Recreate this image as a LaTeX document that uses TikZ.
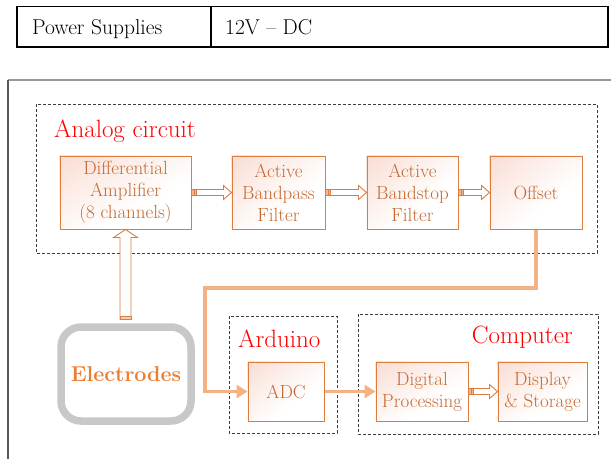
\documentclass[tikz,border=0pt]{standalone}
\usepackage{fontspec}
\setmainfont{Latin Modern Roman}
\usetikzlibrary{calc,arrows.meta,backgrounds}
\definecolor{boxedge}{RGB}{222,124,62}
\definecolor{boxtext}{RGB}{198,104,48}
\definecolor{boxpink}{RGB}{249,220,210}
\definecolor{connor}{RGB}{244,177,131}
\definecolor{elecor}{RGB}{237,125,49}
\definecolor{elecgray}{RGB}{200,200,200}
\definecolor{dashgray}{RGB}{60,60,60}
\newcommand\harrow[2]{%
  \draw[hollow] ($(#1)+(0,3)$) -- ($(#2)+(-8,3)$) -- ($(#2)+(-8,7)$) -- (#2) -- ($(#2)+(-8,-7)$) -- ($(#2)+(-8,-3)$) -- ($(#1)+(0,-3)$) -- cycle;
  \draw[hollow, fill=boxedge!55] ($(#1)+(0,3)$) rectangle ($(#1)+(5,-3)$);
  \draw[boxedge, line width=0.6pt] ($(#1)+(2.5,3)$) -- ($(#1)+(2.5,-3)$);}
\newcommand\gradfill[1]{%
  \begin{scope}
    \clip (#1.north west) rectangle (#1.south east);
    \fill[white] (#1.north west) rectangle (#1.south east);
    \foreach \t/\p in {1.3/4,1.2/10,1.1/17,1.0/24,0.9/32,0.8/40,0.7/48,0.6/56,0.5/64,0.4/72,0.3/80,0.2/88,0.1/95}{
      \fill[boxpink!\p!white] (#1.north west)
        -- ($(#1.north west)!\t!(#1.north east)$)
        -- ($(#1.north west)!\t!(#1.south west)$) -- cycle;}
  \end{scope}}
\begin{document}
\begin{tikzpicture}[x=1pt,y=-1pt,
  block/.style={draw=boxedge, line width=1pt,
    text=boxtext, align=center, inner sep=0pt, font=\fontsize{19}{22}\selectfont},
  hollow/.style={draw=boxedge, line width=0.9pt, fill=white, line join=miter},
  group/.style={draw=dashgray, line width=0.9pt, dash pattern=on 3pt off 2pt},
  redlabel/.style={text=red, inner sep=0pt, font=\fontsize{25}{28}\selectfont},
  conn/.style={draw=connor, line width=3.6pt, -{Triangle[length=11pt,width=13pt]}},
  tabletext/.style={inner sep=0pt, font=\fontsize{21.5}{24}\selectfont}]
\useasboundingbox (0,0) rectangle (611,459);
% table
\draw[line width=1.4pt] (17,6.5) rectangle (608,47) (211,6.5) -- (211,47);
\node[tabletext, anchor=base west] (ps) at (32,34) {Power Supplies};
\node[tabletext, anchor=base west] (dc) at (225,34) {12V -- DC};
% outer frame
\draw[gray!80, line width=1.5pt] (611,80) -- (8,80);
\draw[black!65, line width=1.5pt] (8,80) -- (8,459);
% groups
\draw[group] (36,104) rectangle (597,253);
\draw[group] (229,316) rectangle (337,433);
\draw[group] (358,314) rectangle (598,434);
\node[redlabel, anchor=base west] (lan) at (54,137) {Analog circuit};
\node[redlabel, anchor=base west] (lar) at (238,347) {Arduino};
\node[redlabel, anchor=base east] (lco) at (573,343) {Computer};
% blocks
\node[block, minimum width=131pt, minimum height=73pt] (diff) at (125.5,192.5) {Differential\\Amplifier\\(8 channels)};
\node[block, minimum width=93pt, minimum height=73pt] (bp) at (278.5,192.5) {Active\\Bandpass\\Filter};
\node[block, minimum width=91pt, minimum height=73pt] (bs) at (412.5,192.5) {Active\\Bandstop\\Filter};
\node[block, minimum width=92pt, minimum height=73pt] (off) at (536,192.5) {Offset};
\node[block, minimum width=76pt, minimum height=59pt] (adc) at (286,391.5) {ADC};
\node[block, minimum width=92pt, minimum height=59pt] (dp) at (422,391.5) {Digital\\Processing};
\node[block, minimum width=89pt, minimum height=59pt] (ds) at (542.5,391.5) {Display\\\& Storage};
\begin{scope}[on background layer]
  \gradfill{diff}\gradfill{bp}\gradfill{bs}\gradfill{off}\gradfill{adc}\gradfill{dp}\gradfill{ds}
\end{scope}
% electrodes
\node[draw=elecgray, line width=7.5pt, rounded corners=20pt, fill=white, minimum width=130pt, minimum height=94pt,
  text=elecor, inner sep=0pt, font=\bfseries\fontsize{21.5}{26}\selectfont] (elec) at (126,374) {Electrodes};
% hollow arrows
\harrow{diff.east}{bp.west}
\harrow{bp.east}{bs.west}
\harrow{bs.east}{off.west}
\harrow{dp.east}{ds.west}
\coordinate (vs) at (diff.south |- elec.north);
\draw[hollow] ($(vs)+(-5.5,-4)$) -- ($(diff.south)+(-5.5,8)$) -- ($(diff.south)+(-12,8)$) -- (diff.south) -- ($(diff.south)+(12,8)$) -- ($(diff.south)+(5.5,8)$) -- ($(vs)+(5.5,-4)$) -- cycle;
\draw[hollow, fill=boxedge!40] ($(vs)+(-5.5,-4)$) rectangle ($(vs)+(5.5,-6.5)$);
% data connectors
\coordinate (c1) at (205,288);
\draw[conn] (off.south) |- (c1) |- (adc.west);
\draw[conn] (adc.east) -- (dp.west);
\end{tikzpicture}
\end{document}
